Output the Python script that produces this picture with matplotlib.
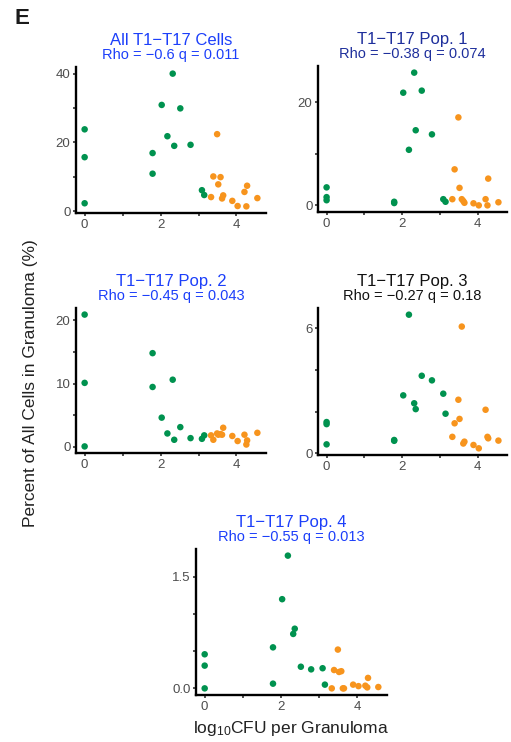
import matplotlib
matplotlib.use('Agg')
import matplotlib.pyplot as plt, numpy as np

plt.rcParams['font.family'] = ['Liberation Sans', 'DejaVu Sans']
plt.rcParams['mathtext.default'] = 'regular'

# log10 CFU per granuloma (same granulomas in every panel)
x = [0, 0, 0, 1.79, 1.79, 2.03, 2.18, 2.32, 2.36, 2.52, 2.79, 3.09, 3.15,
     3.33, 3.39, 3.49, 3.52, 3.58, 3.62, 3.65, 3.89, 4.03, 4.21, 4.26, 4.28, 4.55]
group = ['g'] * 13 + ['o'] * 13

y_all  = [23.8, 15.7, 2.3, 16.9, 10.9, 30.9, 21.8, 40.0, 19.0, 29.9, 19.3, 6.1, 4.7,
          4.1, 10.1, 22.4, 7.8, 9.9, 3.7, 4.6, 3.0, 1.5, 5.6, 1.4, 7.4, 3.8]
y_pop1 = [3.5, 1.6, 1.0, 0.7, 0.45, 21.9, 10.8, 25.8, 14.6, 22.3, 13.8, 1.2, 0.7,
          1.2, 7.0, 17.1, 3.4, 1.2, 0.85, 0.5, 0.4, 0.0, 1.2, 0.0, 5.2, 0.6]
y_pop2 = [20.9, 10.1, 0.05, 14.8, 9.45, 4.6, 2.1, 10.6, 1.1, 3.1, 1.36, 1.25, 1.8,
          1.8, 1.1, 2.1, 1.9, 2.0, 1.9, 3.0, 1.7, 0.9, 1.9, 0.35, 1.0, 2.2]
y_pop3 = [1.5, 1.4, 0.43, 0.64, 0.6, 2.78, 6.65, 2.4, 2.12, 3.72, 3.5, 2.86, 1.9,
          0.79, 1.44, 2.57, 1.65, 6.08, 0.47, 0.56, 0.4, 0.24, 2.09, 0.79, 0.72, 0.61]
y_pop4 = [0.457, 0.305, 0.0, 0.55, 0.063, 1.196, 1.78, 0.73, 0.80, 0.29, 0.255, 0.27, 0.05,
          0.0, 0.246, 0.52, 0.22, 0.23, 0.0, 0.0, 0.05, 0.03, 0.036, 0.013, 0.14, 0.018]

titles = ['All T1\u2212T17 Cells', 'T1\u2212T17 Pop. 1', 'T1\u2212T17 Pop. 2',
          'T1\u2212T17 Pop. 3', 'T1\u2212T17 Pop. 4']
stats = ['Rho = \u22120.6 q = 0.011', 'Rho = \u22120.38 q = 0.074', 'Rho = \u22120.45 q = 0.043',
         'Rho = \u22120.27 q = 0.18', 'Rho = \u22120.55 q = 0.013']

GREEN, ORANGE = '#00924F', '#F7941D'
BLUE, NAVY, BLACK = '#1C3FFA', '#1E2F9C', '#111111'

W, H = 511, 742
fig = plt.figure(figsize=(W/100, H/100), dpi=100)

def box(l, t, r, b):
    return [l/W, 1-b/H, (r-l)/W, (b-t)/H]

def panel(rect, y, title, stat, tcol, ymaj, ylab, ymin):
    ax = fig.add_axes(rect)
    xa, ya = np.array(x), np.array(y)
    cols = np.where(np.array(group) == 'g', GREEN, ORANGE)
    ax.scatter(xa, ya, s=22, c=cols, lw=0, zorder=3)
    ax.margins(0.05)
    for s in ['top', 'right']:
        ax.spines[s].set_visible(False)
    for s in ['left', 'bottom']:
        ax.spines[s].set_linewidth(1.7)
        ax.spines[s].set_color('black')
    ax.set_xticks([0, 2, 4])
    ax.set_xticks([1, 3], minor=True)
    ax.set_yticks(ymaj, ylab)
    ax.set_yticks(ymin, minor=True)
    ax.tick_params(which='both', length=2, width=1.2, color='#333333',
                   labelcolor='#4D4D4D', labelsize=9.5, pad=2)
    ax.annotate(title, (0.5, 1), xycoords='axes fraction', xytext=(0, 19),
                textcoords='offset points', ha='center', va='center', fontsize=12, color=tcol)
    ax.annotate(stat, (0.5, 1), xycoords='axes fraction', xytext=(0, 8.3),
                textcoords='offset points', ha='center', va='center', fontsize=10.5, color=tcol)
    return ax

panel(box(76, 67, 266, 213), y_all, titles[0], stats[0], BLUE, [0, 20, 40], ['0', '20', '40'], [10, 30])
panel(box(318, 66, 507, 212), y_pop1, titles[1], stats[1], NAVY, [0, 20], ['0', '20'], [10])
panel(box(76, 308, 266, 453), y_pop2, titles[2], stats[2], BLUE, [0, 10, 20], ['0', '10', '20'], [5, 15])
panel(box(318, 308, 507, 455), y_pop3, titles[3], stats[3], BLACK, [0, 6], ['0', '6'], [2, 4])
panel(box(196, 549, 387, 695), y_pop4, titles[4], stats[4], BLUE, [0, 1.5], ['0.0', '1.5'], [0.5, 1.0])

fig.text(291/W, 1-728/H, 'log$_{10}$CFU per Granuloma', ha='center', va='center', fontsize=12.5, color='#222222')
fig.text(31/W, 1-383/H, 'Percent of All Cells in Granuloma (%)', rotation=90,
         ha='center', va='center', fontsize=12.5, color='#222222')
fig.text(22/W, 1-18/H, 'E', ha='center', va='center', fontsize=16, fontweight='bold', color='#1a1a1a')

fig.savefig('out.png', dpi=100)
